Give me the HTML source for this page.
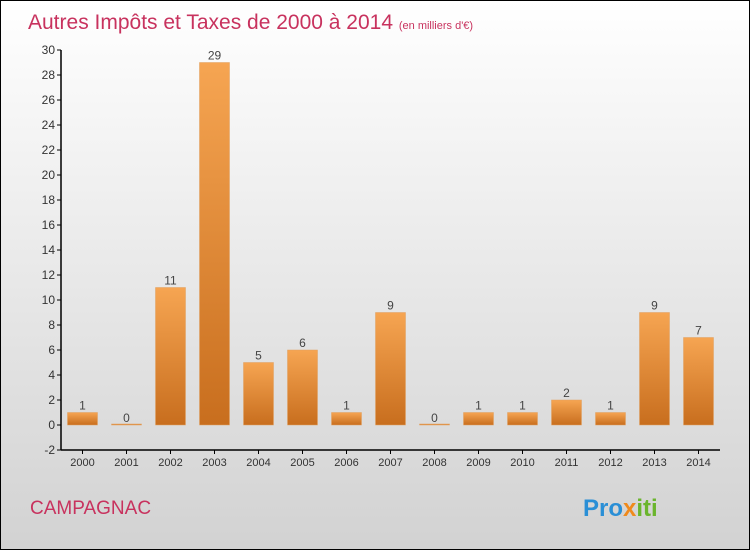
<!DOCTYPE html>
<html><head><meta charset="utf-8"><style>
body{margin:0;}
#wrap{width:750px;height:550px;position:relative;box-sizing:border-box;border:1px solid #000;background:linear-gradient(#ffffff,#d2d2d2);font-family:"Liberation Sans",sans-serif;overflow:hidden}
</style></head><body>
<div id="wrap">
<svg id="c" width="750" height="550" style="position:absolute;left:-1px;top:-1px">
<defs><linearGradient id="g" x1="0" y1="0" x2="0" y2="1"><stop offset="0" stop-color="#f6a552"/><stop offset="1" stop-color="#c86e1e"/></linearGradient></defs>
<text x="28" y="29" font-size="21" fill="#c8325e">Autres Impôts et Taxes de 2000 à 2014 <tspan font-size="11">(en milliers d'€)</tspan></text>
<text x="30" y="514" font-size="19" fill="#c8325e">CAMPAGNAC</text>
<text x="583" y="516" font-size="24" font-weight="bold"><tspan fill="#2a8fd6">Pro</tspan><tspan fill="#f08a1c">x</tspan><tspan fill="#6bb52d">iti</tspan></text>
<g id="plot"></g>
</svg>
</div>
<script>
const years=["2000","2001","2002","2003","2004","2005","2006","2007","2008","2009","2010","2011","2012","2013","2014"];
const values=[1,0,11,29,5,6,1,9,0,1,1,2,1,9,7];
const yTicks=[-2,0,2,4,6,8,10,12,14,16,18,20,22,24,26,28,30];
const NS="http://www.w3.org/2000/svg";
const g=document.getElementById('plot');
const y=v=>425-v*12.5;
const x=i=>82.5+i*44;
function mk(t,a){const e=document.createElementNS(NS,t);for(const k in a)e.setAttribute(k,a[k]);g.appendChild(e);return e;}
let ax=mk('line',{x1:61,y1:y(30),x2:61,y2:y(-2),stroke:'#000','stroke-width':1.5});

let xa=mk('line',{x1:61,y1:y(-2),x2:720,y2:y(-2),stroke:'#000','stroke-width':1.5});

yTicks.forEach(t=>{
 const l=mk('line',{x1:57,x2:61,y1:y(t),y2:y(t),stroke:'#000'});
 
 const tx=mk('text',{x:55,y:y(t)+4,'font-size':12,'text-anchor':'end',fill:'#333'});tx.textContent=t;
 
});
years.forEach((yr,i)=>{
 const v=values[i];
 const l=mk('line',{x1:x(i),x2:x(i),y1:y(-2),y2:y(-2)+4,stroke:'#000'});
 
 const tl=mk('text',{x:x(i),y:466,'font-size':11,'text-anchor':'middle',fill:'#333'});tl.textContent=yr;
 
 const top=y(Math.max(v,0)),h=Math.max(Math.abs(y(v)-y(0)),1);
 const r=mk('rect',{x:x(i)-15,y:v>0?top:y(0)-1,width:30,height:h,fill:'url(#g)',stroke:'#e0a060','stroke-width':0.5});
 
 const vl=mk('text',{x:x(i),y:y(Math.max(v,0))-3,'font-size':12,'text-anchor':'middle',fill:'#444'});vl.textContent=v;
 
});
</script>
</body></html>
